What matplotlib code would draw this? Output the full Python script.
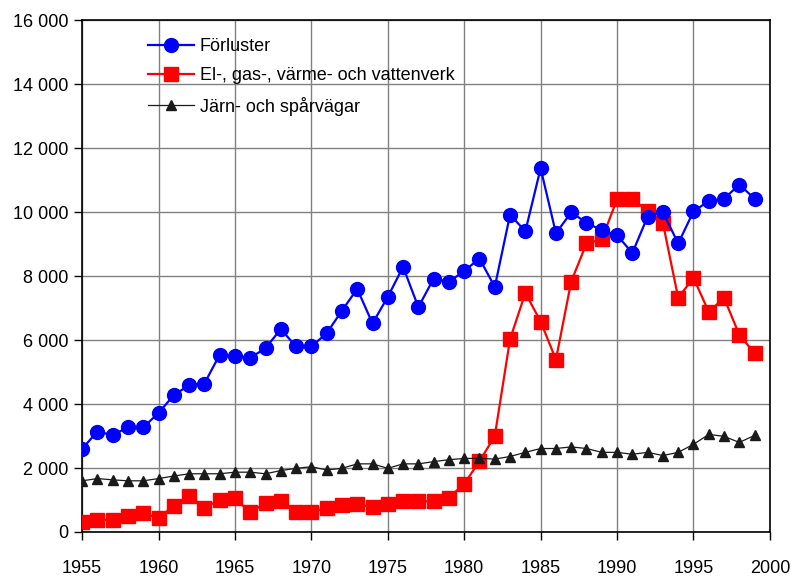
import matplotlib.pyplot as plt
import matplotlib as mpl
from matplotlib.ticker import FuncFormatter, MultipleLocator

mpl.rcParams['font.family'] = ['Liberation Sans Narrow', 'Liberation Sans', 'DejaVu Sans']

# ---------- Data ----------
years = list(range(1955, 2000))

forluster = [2600, 3140, 3030, 3270, 3270, 3720, 4280, 4590, 4640, 5540,
             5500, 5440, 5750, 6340, 5800, 5800, 6210, 6920, 7600, 6520,
             7350, 8290, 7030, 7920, 7820, 8160, 8550, 7660, 9920, 9400,
             11370, 9340, 9990, 9670, 9430, 9280, 8720, 9860, 10000, 9020,
             10020, 10350, 10420, 10860, 10420]

el_gas = [316, 380, 380, 505, 580, 440, 810, 1140, 760, 1000,
          1050, 620, 895, 970, 610, 610, 760, 830, 885, 770,
          885, 960, 960, 960, 1070, 1505, 2210, 3000, 6030, 7470,
          6580, 5390, 7830, 9020, 9150, 10400, 10400, 10050, 9660, 7320,
          7950, 6880, 7320, 6160, 5590]

jarn = [1600, 1670, 1630, 1600, 1600, 1670, 1750, 1820, 1820, 1820,
        1870, 1870, 1820, 1920, 1990, 2040, 1940, 1990, 2130, 2130,
        1990, 2130, 2130, 2200, 2260, 2300, 2300, 2280, 2360, 2490,
        2610, 2610, 2660, 2610, 2490, 2490, 2430, 2490, 2390, 2490,
        2740, 3050, 2990, 2800, 3020]

labels = ['Förluster', 'El-, gas-, värme- och vattenverk', 'Järn- och spårvägar']

# ---------- Figure ----------
fig = plt.figure(figsize=(7.97, 5.77), dpi=100)
ax = fig.add_axes([0.103, 0.078, 0.863, 0.887])

ax.plot(years, forluster, color='#0000FF', lw=1.6, marker='o', ms=10,
        mec='#0000FF', label=labels[0], zorder=4)
ax.plot(years, el_gas, color='#FF0000', lw=1.6, marker='s', ms=9.5,
        mec='#FF0000', label=labels[1], zorder=3)
ax.plot(years, jarn, color='#1a1a1a', lw=0.9, marker='^', ms=7,
        mec='#1a1a1a', label=labels[2], zorder=5)

# ---------- Axes ----------
ax.set_xlim(1955, 2000)
ax.set_ylim(0, 16000)
ax.xaxis.set_major_locator(MultipleLocator(5))
ax.yaxis.set_major_locator(MultipleLocator(2000))
ax.yaxis.set_major_formatter(
    FuncFormatter(lambda v, p: f'{int(v):,}'.replace(',', ' ')))

ax.grid(True, color='#808080', lw=1.0, zorder=0)
ax.set_axisbelow(True)
for s in ax.spines.values():
    s.set_color('#000000')
    s.set_linewidth(1.2)

ax.tick_params(axis='both', direction='out', length=6, width=1.0,
               labelsize=13, color='#000000')
ax.tick_params(axis='x', pad=14)
ax.tick_params(axis='y', pad=4)

# ---------- Legend ----------
leg = ax.legend(loc='upper left', bbox_to_anchor=(0.078, 0.99), frameon=False,
                fontsize=13, handlelength=2.5, handletextpad=0.35,
                labelspacing=0.68, borderaxespad=0.3)

plt.savefig('out.png', dpi=100, facecolor='white')
